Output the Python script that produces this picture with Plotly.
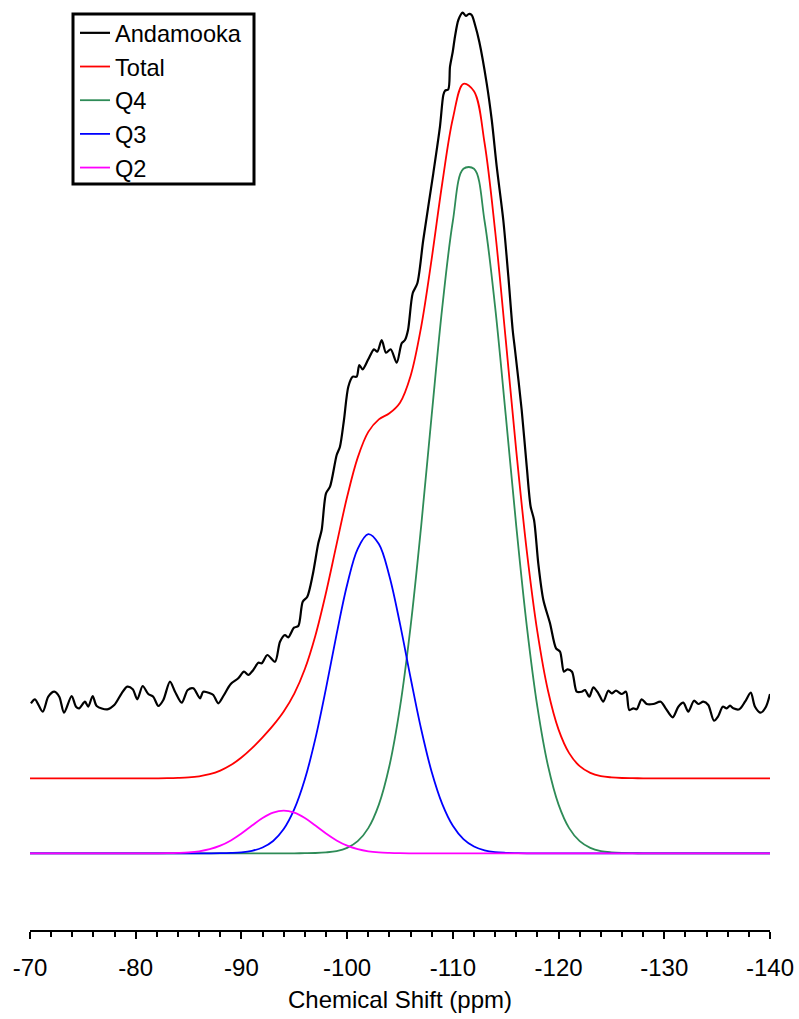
import plotly.graph_objects as go

# Chemical shift grid (ppm) for the fitted components
shift_grid = list(range(-70, -141, -1))

total_int = [75.0] * 13 + [
    75.1, 75.4, 75.9, 77.0, 79.1, 82.7, 88.2, 95.8, 105.2, 116.0, 127.9, 141.8,
    159.7, 184.3, 217.9, 260.6, 308.9, 356.5, 395.7, 421.4, 433.9, 440.0, 450.6,
    477.3, 526.3, 594.7, 670.3, 734.8, 769.5, 762.1, 710.3, 622.3, 513.9, 402.2,
    301.7, 221.1, 162.5, 123.7, 100.2, 87.1, 80.4, 77.2, 75.9, 75.3, 75.1,
] + [75.0] * 13

q4_int = [0.0] * 26 + [
    0.1, 0.3, 0.9, 2.2, 5.4, 12.1, 25.2, 48.7, 87.5, 146.1, 226.7, 327.0, 438.4,
    546.1, 632.3, 684.5, 684.5, 632.3, 546.1, 438.4, 327.0, 226.7, 146.1, 87.5,
    48.7, 25.2, 12.1, 5.4, 2.2, 0.9, 0.3, 0.1,
] + [0.0] * 13

q3_int = [0.0] * 18 + [
    0.1, 0.4, 1.0, 2.5, 5.8, 12.3, 24.2, 44.1, 74.0, 114.9, 164.9, 218.9, 268.5,
    304.5, 319.2, 309.3, 277.1, 229.4, 175.6, 124.3, 81.3, 49.2, 27.5, 14.2, 6.8,
    3.0, 1.2, 0.5, 0.2,
] + [0.0] * 24

q2_int = [0.0] * 13 + [
    0.1, 0.4, 0.9, 2.0, 4.1, 7.6, 12.8, 19.8, 27.7, 35.2, 40.6, 42.6, 40.6, 35.2,
    27.7, 19.8, 12.8, 7.6, 4.1, 2.0, 0.9, 0.4, 0.1,
] + [0.0] * 35

# Measured Andamooka spectrum (offset)
anda_shift = [
    -70.09, -70.47, -71.20, -71.73, -72.30, -72.77, -73.22, -73.94, -74.35, -74.66,
    -75.20, -75.51, -75.93, -76.31, -77.31, -77.97, -78.67, -79.20, -79.72, -80.15,
    -80.66, -81.19, -81.66, -82.14, -82.61, -83.24, -83.72, -84.35, -84.92, -85.45,
    -86.08, -86.39, -87.03, -87.34, -87.81, -88.29, -88.99, -89.70, -90.24, -90.65,
    -91.12, -91.60, -91.92, -92.45, -93.18, -93.65, -94.12, -94.43, -94.97, -95.38,
    -95.80, -96.23, -96.74, -97.27, -97.59, -98.00, -98.38, -99.01, -99.32, -99.70,
    -100.11, -100.53, -100.90, -101.15, -101.47, -102.00, -102.54, -102.85, -103.27, -103.68,
    -104.12, -104.69, -105.16, -105.47, -105.76, -106.20, -106.64, -107.20, -108.15, -108.78,
    -109.10, -109.26, -109.57, -109.73, -109.99, -110.20, -110.52, -110.93, -111.24, -111.50,
    -111.78, -112.10, -112.50, -113.20, -113.68, -114.15, -114.77, -115.25, -115.66, -115.88,
    -116.51, -116.99, -117.36, -117.68, -118.08, -118.56, -119.19, -119.76, -120.14, -120.51,
    -120.83, -121.27, -121.72, -122.19, -122.50, -122.91, -123.29, -123.76, -124.23, -124.70,
    -125.03, -125.43, -125.97, -126.38, -126.69, -127.07, -127.39, -127.86, -128.34, -128.96,
    -129.66, -130.13, -130.80, -131.33, -131.80, -132.27, -132.81, -133.22, -133.69, -134.16,
    -134.70, -135.11, -135.53, -135.90, -136.22, -136.53, -137.10, -137.64, -138.18, -138.58,
    -139.12, -139.62, -140.00,
]
anda_int = [
    150.0, 154.0, 141.6, 156.6, 161.6, 156.6, 140.6, 157.3, 146.6, 145.0,
    151.6, 146.6, 157.3, 147.3, 144.0, 148.3, 160.0, 166.6, 164.0, 154.0,
    167.3, 159.3, 156.6, 147.3, 153.3, 171.6, 161.6, 150.6, 163.3, 165.0,
    155.0, 161.6, 160.0, 158.3, 150.0, 157.3, 169.3, 175.0, 181.6, 178.3,
    183.3, 190.6, 190.0, 198.3, 191.6, 211.6, 218.3, 216.0, 225.6, 227.3,
    251.6, 256.6, 278.3, 310.0, 323.3, 360.0, 366.6, 398.3, 406.6, 433.3,
    466.6, 476.6, 476.6, 488.3, 484.0, 494.0, 504.0, 501.6, 513.3, 500.6,
    504.0, 490.6, 510.0, 513.3, 523.3, 560.0, 570.0, 613.3, 680.0, 726.6,
    758.3, 762.6, 764.0, 786.6, 801.6, 816.6, 833.3, 840.6, 837.3, 839.3,
    838.3, 828.3, 811.6, 770.0, 733.3, 686.6, 633.3, 576.6, 523.3, 503.3,
    443.3, 386.6, 346.6, 333.3, 290.0, 253.3, 230.0, 205.0, 201.6, 181.6,
    184.0, 181.6, 161.6, 161.6, 163.3, 156.6, 166.0, 160.0, 151.6, 162.6,
    160.0, 162.6, 159.3, 161.6, 143.3, 145.0, 144.0, 154.0, 149.3, 149.3,
    151.6, 145.0, 136.0, 146.6, 150.6, 141.6, 152.6, 149.3, 151.6, 148.3,
    132.6, 137.3, 146.6, 145.0, 147.6, 145.0, 144.0, 151.6, 160.6, 146.6,
    140.6, 146.6, 159.3,
]

x_ticks = [-70, -80, -90, -100, -110, -120, -130, -140]
x_tick_text = ["-70", "-80", "-90", "-100", "-110", "-120", "-130", "-140"]

FONT = "Liberation Sans, Arial, sans-serif"
PLOT_W, PLOT_H = 740, 930

fig = go.Figure()
fig.add_trace(go.Scatter(x=anda_shift, y=anda_int, mode="lines", name="Andamooka",
                         line=dict(color="black", width=2.2, shape="spline", smoothing=0.8)))
fig.add_trace(go.Scatter(x=shift_grid, y=total_int, mode="lines", name="Total",
                         line=dict(color="#FF0000", width=1.8, shape="spline")))
fig.add_trace(go.Scatter(x=shift_grid, y=q4_int, mode="lines", name="Q4",
                         line=dict(color="#2E8B57", width=1.8, shape="spline")))
fig.add_trace(go.Scatter(x=shift_grid, y=q3_int, mode="lines", name="Q3",
                         line=dict(color="#0000FF", width=1.8, shape="spline")))
fig.add_trace(go.Scatter(x=shift_grid, y=q2_int, mode="lines", name="Q2",
                         line=dict(color="#FF00FF", width=1.8, shape="spline")))

# legend frame (paper coordinates derived from the plot area)
fig.add_shape(type="rect", xref="paper", yref="paper",
              x0=(73 - 30) / PLOT_W, x1=(254 - 30) / PLOT_W,
              y0=1 - 184 / PLOT_H, y1=1 - 14 / PLOT_H,
              line=dict(color="black", width=3), fillcolor="rgba(0,0,0,0)", layer="above")

fig.update_layout(
    width=799, height=1019,
    margin=dict(l=30, r=29, t=0, b=89, pad=0),
    plot_bgcolor="white", paper_bgcolor="white",
    font=dict(family=FONT, size=24, color="black"),
    legend=dict(x=(75 - 30) / PLOT_W, y=1 - 11 / PLOT_H, xanchor="left", yanchor="top",
                borderwidth=0, bgcolor="rgba(0,0,0,0)",
                font=dict(family=FONT, size=23.6, color="black")),
    xaxis=dict(range=[-70, -140], tickmode="array", tickvals=x_ticks, ticktext=x_tick_text,
               showline=True, linecolor="black", linewidth=2, showgrid=False, zeroline=False,
               ticks="outside", ticklen=7, tickwidth=1.5, tickcolor="black",
               tickfont=dict(family=FONT, size=24), ticklabelstandoff=8,
               minor=dict(dtick=2, tick0=-70, ticks="outside", ticklen=5, tickwidth=1.5,
                          tickcolor="black", showgrid=False),
               title=dict(text="Chemical Shift (ppm)", font=dict(family=FONT, size=24), standoff=11)),
    yaxis=dict(range=[-76.7, 853.3], visible=False, showgrid=False, zeroline=False),
)

fig.write_html("out.html", config={"displayModeBar": False},
               post_script="document.body.style.margin='0';document.body.style.overflow='hidden';")
